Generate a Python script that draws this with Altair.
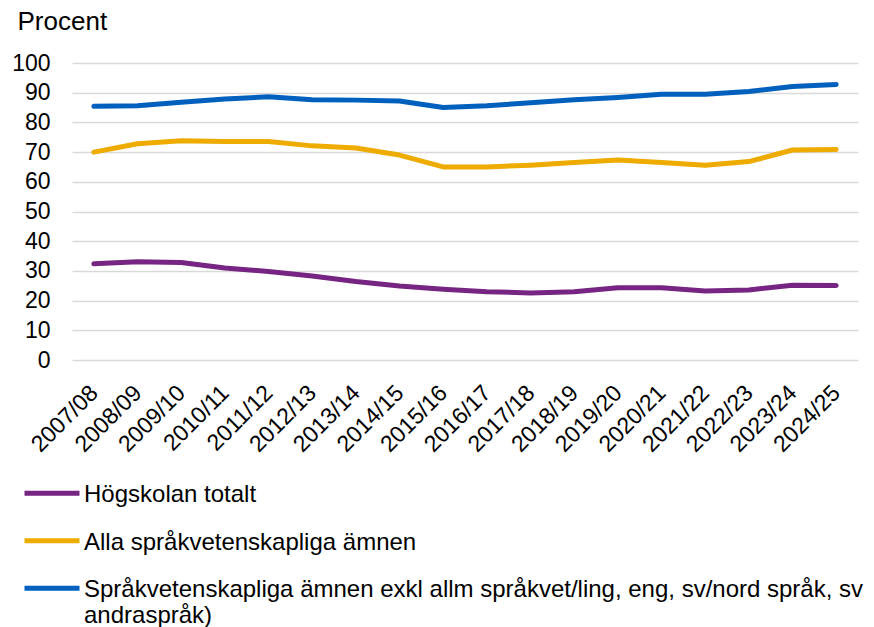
import altair as alt
import pandas as pd

years = ["2007/08", "2008/09", "2009/10", "2010/11", "2011/12", "2012/13",
         "2013/14", "2014/15", "2015/16", "2016/17", "2017/18", "2018/19",
         "2019/20", "2020/21", "2021/22", "2022/23", "2023/24", "2024/25"]

hogskolan = [32.4, 33.1, 32.8, 31.0, 29.8, 28.3, 26.4, 24.9, 23.8, 23.0,
             22.6, 23.0, 24.3, 24.3, 23.2, 23.6, 25.2, 25.1]
alla = [70.0, 72.8, 73.8, 73.6, 73.6, 72.1, 71.4, 69.0, 65.0, 65.0,
        65.6, 66.5, 67.3, 66.5, 65.6, 66.8, 70.7, 70.9]
exkl = [85.4, 85.6, 86.8, 87.9, 88.6, 87.6, 87.5, 87.2, 85.0, 85.6,
        86.6, 87.6, 88.4, 89.5, 89.5, 90.4, 92.1, 92.8]

series_names = [
    "Högskolan totalt",
    "Alla språkvetenskapliga ämnen",
    "Språkvetenskapliga ämnen exkl allm språkvet/ling, eng, sv/nord språk, sv andraspråk)",
]
series_colors = ["#772583", "#eeab00", "#0060bd"]

rows = []
for name, vals in zip(series_names, [hogskolan, alla, exkl]):
    for y, v in zip(years, vals):
        rows.append({"År": y, "Procent": v, "Serie": name})
df = pd.DataFrame(rows)

FONT = "Liberation Sans"

label_expr = (
    "datum.label == '" + series_names[2] + "' ? "
    "['Språkvetenskapliga ämnen exkl allm språkvet/ling, eng, sv/nord språk, sv', 'andraspråk)'] "
    ": datum.label"
)

chart = alt.Chart(df).mark_line(strokeWidth=5, strokeCap="round", strokeJoin="round").encode(
    x=alt.X("År:N", sort=years, title=None,
            scale=alt.Scale(paddingInner=0, paddingOuter=0.5),
            axis=alt.Axis(labelAngle=-45, labelAlign="right", labelBaseline="middle",
                          labelFontSize=23, labelFont=FONT, labelColor="#000000",
                          labelPadding=29, ticks=False, domain=False, grid=False)),
    y=alt.Y("Procent:Q", title="Procent",
            scale=alt.Scale(domain=[0, 100], nice=False),
            axis=alt.Axis(values=list(range(0, 101, 10)), labelFontSize=23, labelFont=FONT,
                          labelColor="#000000", labelPadding=22, ticks=False, domain=False,
                          gridColor="#d9d9d9", gridWidth=1.5,
                          titleAngle=0, titleAlign="left", titleBaseline="alphabetic",
                          titleX=-55, titleY=-34, titleFont=FONT, titleFontSize=26,
                          titleFontWeight="normal", titleColor="#000000")),
    color=alt.Color("Serie:N", sort=series_names,
                    scale=alt.Scale(domain=series_names, range=series_colors),
                    legend=alt.Legend(orient="none", legendX=-50, legendY=419, title=None,
                                      direction="vertical", symbolType="M-1,0.37H1",
                                      symbolSize=3025, symbolStrokeWidth=5,
                                      clipHeight=2, labelBaseline="top",
                                      labelFont=FONT, labelFontSize=24, labelColor="#000000",
                                      labelLimit=900, labelOffset=2, rowPadding=22.5,
                                      padding=0, labelExpr=label_expr)),
).properties(
    width=786, height=297,
    autosize=alt.AutoSizeParams(type="none"),
    padding={"left": 64, "top": 55, "right": 8, "bottom": 267},
).configure_view(stroke=None)

chart.save("out.html", embed_options={"renderer": "svg", "actions": False})
